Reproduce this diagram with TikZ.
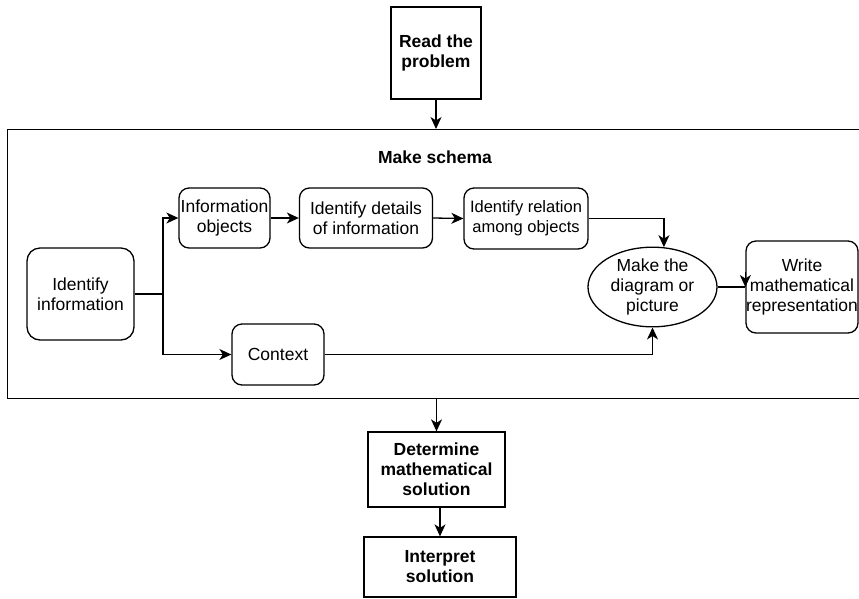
\documentclass[tikz,border=0pt]{standalone}
\usepackage{fontspec}
\setmainfont{Liberation Sans}
\usetikzlibrary{arrows.meta,calc,shapes.geometric}
\begin{document}
\begin{tikzpicture}[x=1pt,y=-1pt,
  every node/.style={font=\fontsize{17.5}{20}\selectfont, align=center, inner sep=0pt},
  sq/.style={draw, line width=1.3pt, font=\fontsize{17.5}{20}\selectfont\bfseries},
  rbox/.style={draw, line width=1.3pt, rounded corners=10pt},
  ln/.style={line width=1.3pt},
  arr/.style={line width=1.3pt, -{Stealth[length=12pt,width=11pt,inset=3.5pt]}}]
\useasboundingbox (0,0) rectangle (859,598);
\clip (0,0) rectangle (859,598);
% outer boxes
\node[sq, minimum width=90, minimum height=92] (read) at (436,53) {Read the\\problem};
\node[draw, line width=1.3pt, minimum width=863, minimum height=269, anchor=north west] (frame) at (7,129) {};
\node[font=\fontsize{17.5}{20}\selectfont\bfseries] (title) at (435,157) {Make schema};
\node[sq, minimum width=137, minimum height=75] (determine) at (436.5,469.5) {Determine\\mathematical\\solution};
\node[sq, minimum width=152, minimum height=60] (interpret) at (440,567) {Interpret\\solution};
% inner nodes
\node[rbox, rounded corners=13pt, minimum width=107, minimum height=92] (identinfo) at (80.5,294) {Identify\\information};
\node[rbox, minimum width=91, minimum height=60] (infoobj) at (224.5,218) {Information\\objects};
\node[rbox, minimum width=133, minimum height=60] (details) at (366,218) {Identify details\\of information};
\node[rbox, minimum width=124, minimum height=61, font=\fontsize{16.5}{20}\selectfont] (relation) at (526,218.5) {Identify relation\\among objects};
\node[rbox, minimum width=92, minimum height=61] (context) at (278,354.5) {Context};
\node[draw, line width=1.3pt, ellipse, inner sep=0pt, minimum width=129, minimum height=74] (ellp) at (652.5,287) {Make the\\diagram or\\picture};
\node[rbox, minimum width=112, minimum height=92] (write) at (802,287) {Write\\mathematical\\representation};
% connectors
\draw[arr] (read.south) -- (read.south |- frame.north);
\draw[arr] (determine.north |- frame.south) -- (determine.north);
\draw[arr] (440,0 |- determine.south) -- (440,0 |- interpret.north);
\coordinate (split) at (163,294);
\draw[ln] (identinfo.east) -- (split);
\draw[arr] (split) |- (infoobj.west);
\draw[arr] (split) |- (context.west);
\draw[arr] (infoobj.east) -- (details.west);
\draw[arr] (details.east) -- (relation.west);
\draw[arr] (relation.east) -| (ellp.74);
\draw[arr] (context.east) -| (ellp.south);
\draw[ln] (ellp.east) -- (write.west);
\draw[arr] ($(write.west)+(0,-15)$) -- (write.west);
\end{tikzpicture}
\end{document}
